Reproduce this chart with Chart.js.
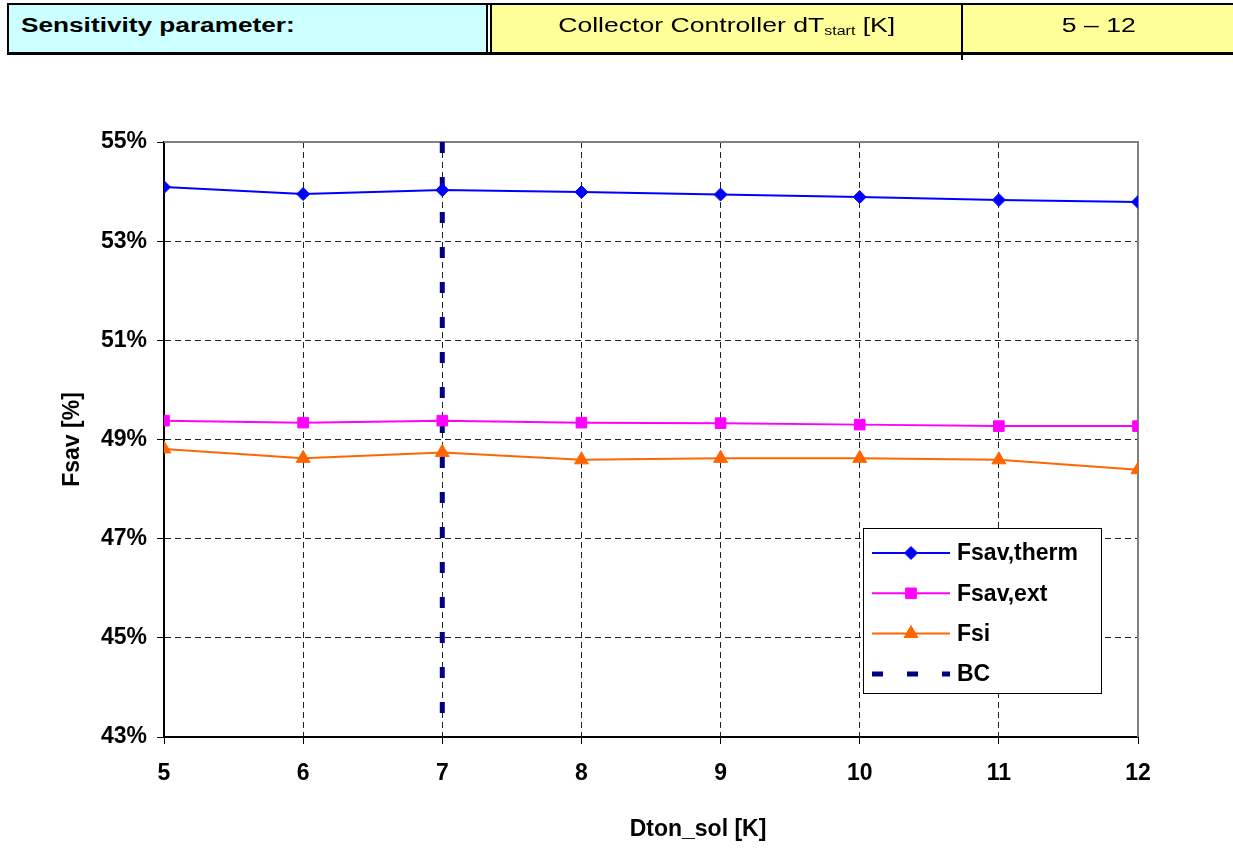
<!DOCTYPE html>
<html>
<head>
<meta charset="utf-8">
<script src="https://cdn.jsdelivr.net/npm/chart.js@4.4.0/dist/chart.umd.min.js"></script>
<style>
html, body { margin: 0; padding: 0; background: #fff; overflow: hidden; }
body { width: 1233px; height: 849px; position: relative; font-family: "Liberation Sans", Arial, sans-serif; }
#chart { position: absolute; left: 0; top: 0; }
.hd { position: absolute; }
.cell { position: absolute; top: 5px; height: 47px; line-height: 40px; font-size: 20px; color: #000; white-space: nowrap; overflow: hidden; }
.cell span { display: inline-block; }
#c1 { left: 9px; width: 477px; background: #CCFFFF; font-weight: bold; }
#c1 span { margin-left: 12px; transform: scaleX(1.31); transform-origin: left center; }
#c2 { left: 492px; width: 469px; background: #FFFF99; text-align: center; }
#c3 { left: 963px; width: 272px; background: #FFFF99; text-align: center; }
#c2 span, #c3 span { transform: scaleX(1.33); transform-origin: center center; }
sub { font-size: 12px; vertical-align: -3px; line-height: 0; }
</style>
</head>
<body>
<canvas id="chart" width="1233" height="849"></canvas>

<div class="cell" id="c1"><span>Sensitivity parameter:</span></div>
<div class="cell" id="c2"><span>Collector Controller dT<sub>start</sub> [K]</span></div>
<div class="cell" id="c3"><span>5 – 12</span></div>
<!-- table rules -->
<div class="hd" style="left:7px;top:3px;width:1228px;height:2px;background:#000"></div>
<div class="hd" style="left:7px;top:52px;width:1228px;height:3px;background:#000"></div>
<div class="hd" style="left:7px;top:3px;width:2px;height:52px;background:#000"></div>
<div class="hd" style="left:486px;top:3px;width:2px;height:52px;background:#000"></div>
<div class="hd" style="left:490px;top:3px;width:2px;height:52px;background:#000"></div>
<div class="hd" style="left:961px;top:3px;width:2px;height:57px;background:#000"></div>

<script>
// x values: collector controller dT start [K]
const dtStart = [5, 6, 7, 8, 9, 10, 11, 12];

// series values, in %
const fsavTherm = [54.09, 53.95, 54.03, 53.99, 53.94, 53.89, 53.83, 53.79];
const fsavExt   = [49.38, 49.34, 49.38, 49.34, 49.33, 49.30, 49.27, 49.27];
const fsi       = [48.81, 48.62, 48.74, 48.59, 48.62, 48.62, 48.59, 48.39];

// base case marker
const bcX = [7, 7];
const bcY = [55, 43.35];

const yMin = 43, yMax = 55, yStep = 2;
const xMin = 5, xMax = 12;
const xTitle = 'Dton_sol [K]';

const FONT = '"Liberation Sans", Arial, sans-serif';
Chart.defaults.font.family = FONT;
Chart.defaults.color = '#000';

function pts(xs, ys) {
    return xs.map((x, i) => ({ x: x, y: ys[i] }));
}

// gray frame on top and right of plot
const plotFrame = {
    id: 'plotFrame',
    beforeDatasetsDraw(chart) {
        const ctx = chart.ctx;
        const a = chart.chartArea;
        ctx.save();
        ctx.strokeStyle = '#808080';
        ctx.lineWidth = 2;
        ctx.setLineDash([]);
        ctx.beginPath();
        ctx.moveTo(a.left, a.top);
        ctx.lineTo(a.right, a.top);
        ctx.lineTo(a.right, a.bottom);
        ctx.stroke();
        ctx.restore();
    }
};

// boxed legend inside the plot + x title (sits right of centre in the original)
const boxLegend = {
    id: 'boxLegend',
    afterDraw(chart) {
        const ctx = chart.ctx;
        const x0 = 863, y0 = 528, w = 238, h = 165;
        ctx.save();
        ctx.fillStyle = '#fff';
        ctx.fillRect(x0, y0, w, h);
        ctx.strokeStyle = '#000';
        ctx.lineWidth = 1;
        ctx.setLineDash([]);
        ctx.strokeRect(x0 + 0.5, y0 + 0.5, w, h);

        chart.data.datasets.forEach(function(ds, i) {
            const y = 553 + i * 40.3;
            ctx.save();
            ctx.strokeStyle = ds.borderColor;
            ctx.lineWidth = ds.borderWidth;
            ctx.setLineDash(ds.borderDash || []);
            ctx.beginPath();
            ctx.moveTo(872, y);
            ctx.lineTo(950, y);
            ctx.stroke();
            ctx.restore();
            if (ds.pointRadius > 0) {
                ctx.fillStyle = ds.pointBackgroundColor;
                ctx.strokeStyle = ds.borderColor;
                ctx.lineWidth = 1;
                Chart.helpers.drawPoint(ctx, { pointStyle: ds.pointStyle, radius: ds.pointRadius, rotation: 0, borderWidth: 1 }, 911, y);
            }
            ctx.fillStyle = '#000';
            ctx.font = 'bold 23px ' + FONT;
            ctx.textBaseline = 'middle';
            ctx.textAlign = 'left';
            ctx.fillText(ds.label, 957, y + 1);
        });

        ctx.font = 'bold 23px ' + FONT;
        ctx.textAlign = 'center';
        ctx.textBaseline = 'middle';
        ctx.fillText(xTitle, 698, 830);
        ctx.restore();
    }
};

new Chart(document.getElementById('chart'), {
    type: 'line',
    data: {
        datasets: [{
            label: 'Fsav,therm',
            data: pts(dtStart, fsavTherm),
            borderColor: '#0000FF',
            backgroundColor: '#0000FF',
            pointBackgroundColor: '#0000FF',
            borderWidth: 2,
            pointStyle: 'rectRot',
            pointRadius: 6.5,
            pointBorderWidth: 1
        }, {
            label: 'Fsav,ext',
            data: pts(dtStart, fsavExt),
            borderColor: '#FF00FF',
            backgroundColor: '#FF00FF',
            pointBackgroundColor: '#FF00FF',
            borderWidth: 2,
            pointStyle: 'rect',
            pointRadius: 7.5,
            pointBorderWidth: 1
        }, {
            label: 'Fsi',
            data: pts(dtStart, fsi),
            borderColor: '#FF6600',
            backgroundColor: '#FF6600',
            pointBackgroundColor: '#FF6600',
            borderWidth: 2,
            pointStyle: 'triangle',
            pointRadius: 8,
            pointBorderWidth: 1
        }, {
            label: 'BC',
            data: pts(bcX, bcY),
            borderColor: '#000080',
            backgroundColor: '#000080',
            borderWidth: 5,
            borderDash: [11, 24],
            pointRadius: 0
        }]
    },
    options: {
        responsive: false,
        animation: false,
        devicePixelRatio: 1,
        layout: { padding: { left: 0, top: 142, right: 95, bottom: 0 } },
        plugins: {
            legend: { display: false },
            tooltip: { enabled: false }
        },
        elements: { line: { tension: 0 } },
        scales: {
            x: {
                type: 'linear',
                min: xMin,
                max: xMax,
                afterFit: function(s) { s.height = 112; },
                ticks: {
                    stepSize: 1,
                    padding: 16,
                    font: { size: 23, weight: 'bold' },
                    color: '#000'
                },
                grid: {
                    color: '#222',
                    lineWidth: 1,
                    tickColor: '#000',
                    tickLength: 7,
                    tickBorderDash: []
                },
                border: { color: '#000', width: 2, dash: [6, 4] },
                title: { display: false }
            },
            y: {
                min: yMin,
                max: yMax,
                afterFit: function(s) { s.width = 164; },
                ticks: {
                    stepSize: yStep,
                    padding: 10,
                    font: { size: 23, weight: 'bold' },
                    color: '#000',
                    callback: function(v) { return v + '%'; }
                },
                grid: {
                    color: '#222',
                    lineWidth: 1,
                    tickColor: '#000',
                    tickLength: 7,
                    tickBorderDash: []
                },
                border: { color: '#000', width: 2, dash: [6, 4] },
                title: {
                    display: true,
                    text: 'Fsav [%]',
                    font: { size: 23, weight: 'bold' },
                    color: '#000',
                    padding: { top: 59, bottom: 0 }
                }
            }
        }
    },
    plugins: [plotFrame, boxLegend]
});
</script>
</body>
</html>
